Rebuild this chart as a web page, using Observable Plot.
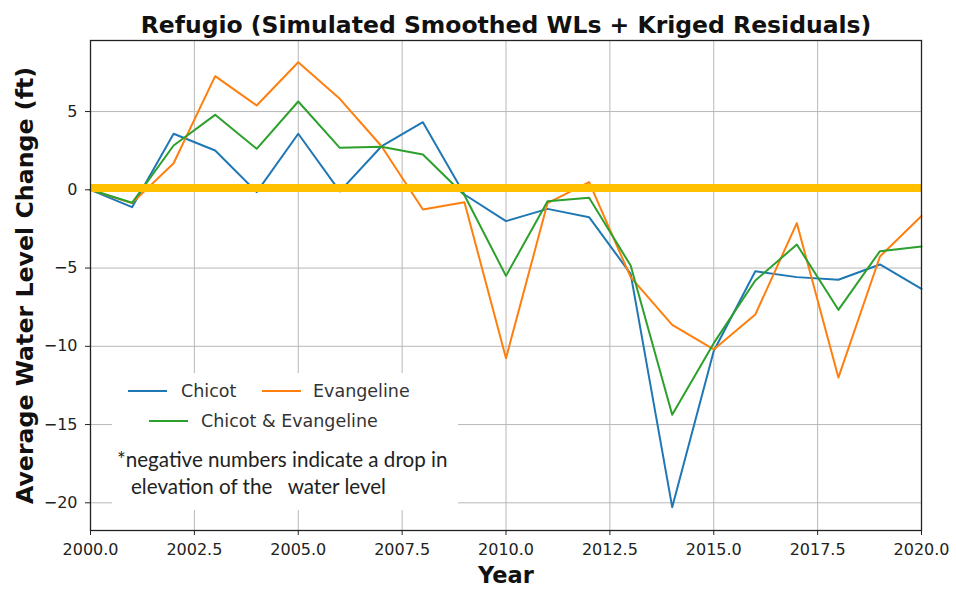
<!DOCTYPE html>
<html><head><meta charset="utf-8">
<script src="https://cdn.jsdelivr.net/npm/d3@7"></script>
<script src="https://cdn.jsdelivr.net/npm/@observablehq/plot@0.6"></script>
<style>
body{margin:0;background:#fff;}
#wrap{position:relative;width:956px;height:591px;overflow:hidden;}
#legendBox{position:absolute;left:112px;top:373px;width:346px;height:137px;background:#fff;}
.sw{position:absolute;height:2px;width:39px;}
.lt{position:absolute;font-family:"DejaVu Sans";font-size:17.5px;color:#333;line-height:20px;white-space:nowrap;}
.note{position:absolute;font-family:"Lato";font-size:20.6px;color:#222;line-height:24px;white-space:pre;}
</style></head><body><div id="wrap"></div>
<script>
const titleText = "Refugio (Simulated Smoothed WLs + Kriged Residuals)";
const xLabel = "Year";
const yLabel = "Average Water Level Change (ft)";
const years = [2000,2001,2002,2003,2004,2005,2006,2007,2008,2009,2010,2011,2012,2013,2014,2015,2016,2017,2018,2019,2020];
const chicot = [0,-1.11,3.58,2.51,-0.15,3.58,-0.1,2.77,4.32,-0.3,-2.0,-1.22,-1.75,-5.37,-20.28,-10.3,-5.2,-5.58,-5.75,-4.77,-6.33];
const evangeline = [0,-0.85,1.70,7.26,5.39,8.15,5.81,2.8,-1.26,-0.8,-10.76,-0.85,0.49,-5.58,-8.63,-10.2,-7.97,-2.13,-12.0,-4.26,-1.68];
const combined = [0,-0.83,2.83,4.79,2.62,5.64,2.68,2.75,2.26,-0.35,-5.5,-0.73,-0.51,-4.84,-14.38,-9.8,-5.8,-3.5,-7.67,-3.92,-3.62];
const seriesNames = ["Chicot","Evangeline","Chicot & Evangeline"];
const seriesColors = ["#1f77b4","#ff7f0e","#2ca02c"];
const xTicks = [2000,2002.5,2005,2007.5,2010,2012.5,2015,2017.5,2020];
const yTicks = [-20,-15,-10,-5,0,5];
const referenceLine = [0.12];
const noteLines = ["*negative numbers indicate a drop in", "elevation of the   water level"];

const seriesValues = [chicot, evangeline, combined];
const rows = [];
seriesNames.forEach((s, i) => years.forEach((y, j) => rows.push({series: s, year: y, value: seriesValues[i][j]})));

const minusFmt = d => d < 0 ? "\u2212" + Math.abs(d) : String(d);

const chart = Plot.plot({
  width: 956, height: 591,
  marginLeft: 90, marginRight: 35, marginTop: 40, marginBottom: 61,
  style: {fontFamily: "DejaVu Sans", fontSize: "16px", color: "#222", background: "white", overflow: "visible"},
  x: {domain: [2000, 2020]},
  y: {domain: [-21.77, 9.54]},
  color: {domain: seriesNames, range: seriesColors},
  marks: [
    Plot.gridX(xTicks, {stroke: "#b8b8b8", strokeOpacity: 1, strokeWidth: 1}),
    Plot.gridY(yTicks, {stroke: "#b8b8b8", strokeOpacity: 1, strokeWidth: 1}),
    Plot.line(rows, {x: "year", y: "value", z: "series", stroke: "series", strokeWidth: 2}),
    Plot.ruleY(referenceLine, {stroke: "#FFC000", strokeWidth: 8}),
    Plot.frame({stroke: "#222", strokeWidth: 1.3}),
    Plot.axisX(xTicks, {tickFormat: d3.format(".1f"), tickSize: 5, tickPadding: 8, label: null, fontSize: 16}),
    Plot.axisY(yTicks, {tickFormat: minusFmt, tickSize: 5, tickPadding: 8, label: null, fontSize: 16}),
    Plot.text([titleText], {text: d => d, frameAnchor: "top", dy: -8, lineAnchor: "bottom", fontWeight: "bold", fontSize: 23.5, fill: "#111"}),
    Plot.text([xLabel], {text: d => d, frameAnchor: "bottom", dy: 45, lineAnchor: "middle", fontWeight: "bold", fontSize: 22.5, fill: "#111"}),
    Plot.text([yLabel], {text: d => d, frameAnchor: "left", dx: -65, rotate: -90, textAnchor: "middle", lineAnchor: "middle", fontWeight: "bold", fontSize: 23.7, fill: "#111"})
  ]
});
const wrap = document.getElementById("wrap");
wrap.appendChild(chart);

// legend overlay
const box = document.createElement("div");
box.id = "legendBox";
wrap.appendChild(box);
const legendItems = [
  {name: seriesNames[0], color: seriesColors[0], sx: 128, tx: 181, cy: 391},
  {name: seriesNames[1], color: seriesColors[1], sx: 262, tx: 313, cy: 391},
  {name: seriesNames[2], color: seriesColors[2], sx: 149, tx: 201, cy: 421}
];
legendItems.forEach(it => {
  const sw = document.createElement("div");
  sw.className = "sw"; sw.style.left = it.sx + "px"; sw.style.top = (it.cy - 1) + "px"; sw.style.background = it.color;
  wrap.appendChild(sw);
  const t = document.createElement("div");
  t.className = "lt"; t.style.left = it.tx + "px"; t.style.top = (it.cy - 10) + "px"; t.textContent = it.name;
  wrap.appendChild(t);
});
[[117, 459], [131, 486]].forEach((p, i) => {
  const n = document.createElement("div");
  n.className = "note"; n.style.left = p[0] + "px"; n.style.top = (p[1] - 12) + "px"; n.textContent = noteLines[i];
  wrap.appendChild(n);
});
</script></body></html>
